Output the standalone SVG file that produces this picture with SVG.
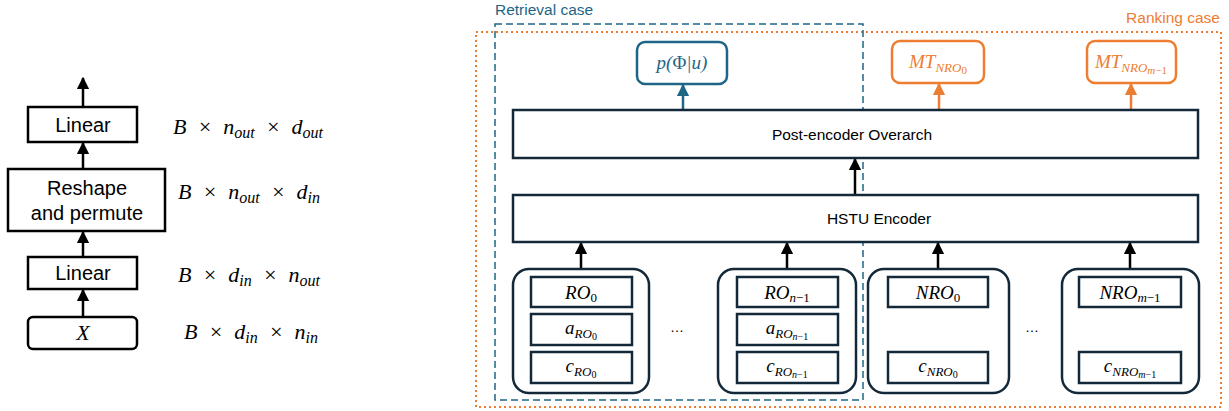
<svg xmlns="http://www.w3.org/2000/svg" width="1229" height="411" viewBox="0 0 1229 411">
<defs>
<style>
.box{fill:#fff;stroke:#000;stroke-width:2.5}
.nbox{fill:#fff;stroke:#13293a;stroke-width:2.5}
.lbl{font-family:"Liberation Sans",Arial,sans-serif;font-size:20px;fill:#000}
.lbl2{font-family:"Liberation Sans",Arial,sans-serif;font-size:15.5px;fill:#000}
.m{font-family:"Liberation Serif","Times New Roman",serif;font-style:italic;font-size:22px;fill:#000}
.mi{font-family:"Liberation Serif","Times New Roman",serif;font-style:italic;font-size:19px;fill:#000}
.up{font-style:normal}
.con{stroke:#000;stroke-width:2.5;fill:none}
.case{font-family:"Liberation Sans",Arial,sans-serif;font-size:15.5px}
</style>
<marker id="ah" viewBox="0 0 10 10" refX="9" refY="5" markerWidth="5" markerHeight="5" orient="auto" markerUnits="strokeWidth"><path d="M0,0 L10,5 L0,10 z" fill="#000"/></marker>
<marker id="ahb" viewBox="0 0 10 10" refX="9" refY="5" markerWidth="5" markerHeight="5" orient="auto" markerUnits="strokeWidth"><path d="M0,0 L10,5 L0,10 z" fill="#1f6586"/></marker>
<marker id="aho" viewBox="0 0 10 10" refX="9" refY="5" markerWidth="5" markerHeight="5" orient="auto" markerUnits="strokeWidth"><path d="M0,0 L10,5 L0,10 z" fill="#ed7d31"/></marker>
</defs>

<!-- case frames -->
<g id="ranking-case">
<rect x="476" y="32" width="745" height="375" fill="none" stroke="#ed7d31" stroke-width="2" stroke-dasharray="2 3"/>
<text class="case" x="1220" y="23" text-anchor="end" fill="#ed7d31">Ranking case</text>
</g>
<g id="retrieval-case">
<rect x="495" y="24" width="368" height="376" fill="none" stroke="#1f6586" stroke-width="1.5" stroke-dasharray="7 4"/>
<text class="case" x="495" y="15" fill="#1f6586">Retrieval case</text>
</g>

<!-- connectors -->
<g id="connectors">
<line class="con" x1="83" y1="317" x2="83" y2="290" marker-end="url(#ah)"/>
<line class="con" x1="83" y1="257" x2="83" y2="232" marker-end="url(#ah)"/>
<line class="con" x1="83" y1="169" x2="83" y2="143" marker-end="url(#ah)"/>
<line class="con" x1="83" y1="107" x2="83" y2="78" marker-end="url(#ah)"/>
<line class="con" x1="581" y1="269" x2="581" y2="243" marker-end="url(#ah)"/>
<line class="con" x1="787" y1="269" x2="787" y2="243" marker-end="url(#ah)"/>
<line class="con" x1="938" y1="269" x2="938" y2="243" marker-end="url(#ah)"/>
<line class="con" x1="1130" y1="269" x2="1130" y2="243" marker-end="url(#ah)"/>
<line class="con" x1="855" y1="195" x2="855" y2="159" marker-end="url(#ah)"/>
<line x1="683" y1="110" x2="683" y2="85" stroke="#1f6586" stroke-width="2.5" marker-end="url(#ahb)"/>
<line x1="939" y1="110" x2="939" y2="84" stroke="#ed7d31" stroke-width="2.5" marker-end="url(#aho)"/>
<line x1="1131" y1="110" x2="1131" y2="84" stroke="#ed7d31" stroke-width="2.5" marker-end="url(#aho)"/>
</g>

<!-- left diagram -->
<g id="x-node">
<rect class="box" x="28" y="317" width="109" height="32" rx="5"/>
<text class="m" x="83" y="340" text-anchor="middle" font-size="20">X</text>
</g>
<g id="linear1">
<rect class="box" x="28" y="257" width="109" height="32"/>
<text class="lbl" x="83" y="280" text-anchor="middle">Linear</text>
</g>
<g id="reshape">
<rect class="box" x="8" y="169" width="157" height="62"/>
<text class="lbl" x="87" y="195" text-anchor="middle">Reshape</text>
<text class="lbl" x="87" y="220" text-anchor="middle">and permute</text>
</g>
<g id="linear2">
<rect class="box" x="28" y="107" width="109" height="35"/>
<text class="lbl" x="83" y="132" text-anchor="middle">Linear</text>
</g>
<g id="dims">
<text class="m" x="173" y="134">B&#160;&#160;×&#160;&#160;n<tspan font-size="16" dy="4">out</tspan><tspan dy="-4">&#160;&#160;×&#160;&#160;d</tspan><tspan font-size="16" dy="4">out</tspan></text>
<text class="m" x="178" y="199">B&#160;&#160;×&#160;&#160;n<tspan font-size="16" dy="4">out</tspan><tspan dy="-4">&#160;&#160;×&#160;&#160;d</tspan><tspan font-size="16" dy="4">in</tspan></text>
<text class="m" x="178" y="282">B&#160;&#160;×&#160;&#160;d<tspan font-size="16" dy="4">in</tspan><tspan dy="-4">&#160;&#160;×&#160;&#160;n</tspan><tspan font-size="16" dy="4">out</tspan></text>
<text class="m" x="184" y="339">B&#160;&#160;×&#160;&#160;d<tspan font-size="16" dy="4">in</tspan><tspan dy="-4">&#160;&#160;×&#160;&#160;n</tspan><tspan font-size="16" dy="4">in</tspan></text>
</g>

<!-- outputs -->
<g id="p-phi-u">
<rect x="637" y="42" width="90" height="42" rx="8" fill="#fff" stroke="#1f6586" stroke-width="2.5"/>
<text class="mi" x="682" y="69" text-anchor="middle" style="fill:#1f6586">p(<tspan class="up">Φ</tspan>|u)</text>
</g>
<g id="mt-nro0">
<rect x="892" y="41" width="92" height="42" rx="8" fill="#fff" stroke="#ed7d31" stroke-width="2.5"/>
<text class="mi" x="938" y="68" text-anchor="middle" style="fill:#ed7d31">MT<tspan font-size="13" dy="4">NRO</tspan><tspan font-size="11" dy="2" class="up">0</tspan></text>
</g>
<g id="mt-nrom1">
<rect x="1087" y="41" width="89" height="42" rx="8" fill="#fff" stroke="#ed7d31" stroke-width="2.5"/>
<text class="mi" x="1131" y="68" text-anchor="middle" style="fill:#ed7d31">MT<tspan font-size="13" dy="4">NRO</tspan><tspan font-size="11" dy="2">m</tspan><tspan font-size="11" class="up">−1</tspan></text>
</g>

<g id="overarch">
<rect class="nbox" x="513" y="110" width="685" height="48"/>
<text class="lbl2" x="852" y="140" text-anchor="middle">Post-encoder Overarch</text>
</g>
<g id="hstu">
<rect class="nbox" x="513" y="195" width="685" height="47"/>
<text class="lbl2" x="879" y="224" text-anchor="middle">HSTU Encoder</text>
</g>

<!-- RO groups -->
<g id="ro0">
<rect class="nbox" x="513" y="269" width="136" height="124" rx="16"/>
<rect class="nbox" x="531" y="277" width="101" height="30"/>
<rect class="nbox" x="531" y="314" width="101" height="31"/>
<rect class="nbox" x="531" y="352" width="101" height="31"/>
<text class="mi" x="581" y="299" text-anchor="middle">RO<tspan font-size="13" dy="3" class="up">0</tspan></text>
<text class="mi" x="581" y="334" text-anchor="middle">a<tspan font-size="13" dy="4">RO</tspan><tspan font-size="10" dy="2" class="up">0</tspan></text>
<text class="mi" x="581" y="372" text-anchor="middle">c<tspan font-size="13" dy="4">RO</tspan><tspan font-size="10" dy="2" class="up">0</tspan></text>
</g>
<text id="dots1" x="677" y="332" text-anchor="middle" font-family="'Liberation Sans',Arial,sans-serif" font-size="14" fill="#000">…</text>
<g id="ron">
<rect class="nbox" x="718" y="269" width="138" height="124" rx="16"/>
<rect class="nbox" x="737" y="277" width="101" height="30"/>
<rect class="nbox" x="737" y="314" width="101" height="31"/>
<rect class="nbox" x="737" y="352" width="101" height="31"/>
<text class="mi" x="787" y="299" text-anchor="middle">RO<tspan font-size="13" dy="3">n</tspan><tspan font-size="13" class="up">−1</tspan></text>
<text class="mi" x="787" y="334" text-anchor="middle">a<tspan font-size="13" dy="4">RO</tspan><tspan font-size="10" dy="2">n</tspan><tspan font-size="10" class="up">−1</tspan></text>
<text class="mi" x="787" y="372" text-anchor="middle">c<tspan font-size="13" dy="4">RO</tspan><tspan font-size="10" dy="2">n</tspan><tspan font-size="10" class="up">−1</tspan></text>
</g>
<g id="nro0">
<rect class="nbox" x="868" y="269" width="141" height="124" rx="16"/>
<rect class="nbox" x="888" y="277" width="100" height="30"/>
<rect class="nbox" x="888" y="352" width="100" height="31"/>
<text class="mi" x="938" y="299" text-anchor="middle">NRO<tspan font-size="13" dy="3" class="up">0</tspan></text>
<text class="mi" x="938" y="372" text-anchor="middle">c<tspan font-size="13" dy="4">NRO</tspan><tspan font-size="10" dy="2" class="up">0</tspan></text>
</g>
<text id="dots2" x="1032" y="332" text-anchor="middle" font-family="'Liberation Sans',Arial,sans-serif" font-size="14" fill="#000">…</text>
<g id="nrom">
<rect class="nbox" x="1062" y="269" width="137" height="124" rx="16"/>
<rect class="nbox" x="1079" y="277" width="102" height="30"/>
<rect class="nbox" x="1079" y="352" width="102" height="31"/>
<text class="mi" x="1130" y="299" text-anchor="middle">NRO<tspan font-size="13" dy="3">m</tspan><tspan font-size="13" class="up">−1</tspan></text>
<text class="mi" x="1130" y="372" text-anchor="middle">c<tspan font-size="13" dy="4">NRO</tspan><tspan font-size="10" dy="2">m</tspan><tspan font-size="10" class="up">−1</tspan></text>
</g>
</svg>
